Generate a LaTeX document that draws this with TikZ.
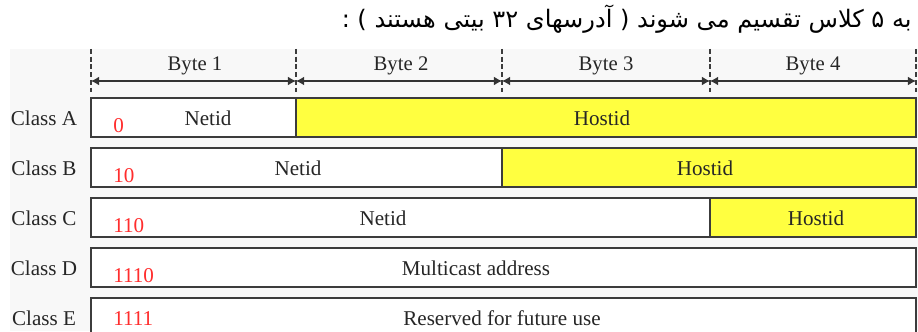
\documentclass[tikz,border=0pt]{standalone}
\usepackage{fontspec}
\setmainfont{Liberation Serif}
\newfontfamily\farsifont[Script=Arabic]{DejaVu Sans}
\TeXXeTstate=1
\usetikzlibrary{arrows.meta}
\definecolor{panel}{RGB}{248,248,248}
\definecolor{hostyellow}{RGB}{255,255,64}
\definecolor{codered}{RGB}{255,45,45}
\definecolor{edge}{RGB}{60,60,60}
\tikzset{
    field/.style={draw=edge,line width=0.8pt,fill=white},
    hostfield/.style={field,fill=hostyellow},
    tick/.style={draw=edge,line width=0.9pt,dash pattern=on 2.8pt off 1.6pt},
    span/.style={draw=black!80,line width=0.7pt,{Latex[length=4.6pt,width=5pt]}-{Latex[length=4.6pt,width=5pt]}},
    lbl/.style={font=\fontsize{12}{14}\selectfont,text=black!85,inner sep=0pt},
    bytelbl/.style={font=\fontsize{11.8}{14}\selectfont,text=black!85,inner sep=0pt},
    code/.style={font=\fontsize{12}{14}\selectfont,text=codered,anchor=west,inner sep=0pt}
}
\begin{document}
\begin{tikzpicture}[x=0.02cm,y=-0.02cm]
        \clip (0,0) rectangle (918,331);
        \fill[white] (0,0) rectangle (918,331);
        \fill[panel] (10,49) rectangle (918,331);

        \node[anchor=base east,inner sep=0pt] (title) at (912,28)
            {\farsifont\fontsize{13.7}{16}\selectfont\beginR به ۵ کلاس تقسیم می شوند ( آدرسهای ۳۲ بیتی هستند ) :\endR};

        % byte ruler
        \coordinate (t0) at (91,81);
        \coordinate (t1) at (296,81);
        \coordinate (t2) at (502,81);
        \coordinate (t3) at (710,81);
        \coordinate (t4) at (916,81);
        \draw[tick] (91,49)--(91,92);
        \draw[tick] (296,49)--(296,92);
        \draw[tick] (502,49)--(502,92);
        \draw[tick] (710,49)--(710,92);
        \draw[tick] (916,49)--(916,92);
        \draw[span] (t0)--(t1);
        \draw[span] (t1)--(t2);
        \draw[span] (t2)--(t3);
        \draw[span] (t3)--(t4);
        \node[bytelbl] (byte1) at (195,66) {Byte 1};
        \node[bytelbl] (byte2) at (401,66) {Byte 2};
        \node[bytelbl] (byte3) at (606,66) {Byte 3};
        \node[bytelbl] (byte4) at (813,66) {Byte 4};

        % class A
        \draw[field] (91,98) rectangle (296,137);
        \draw[hostfield] (296,98) rectangle (916,137);
        \node[lbl] (clsA) at (44,118) {Class A};
        \node[code] (codeA) at (113,126) {0};
        \node[lbl] (netA) at (208,118) {Netid};
        \node[lbl] (hostA) at (602,118) {Hostid};

        % class B
        \draw[field] (91,148) rectangle (502,187);
        \draw[hostfield] (502,148) rectangle (916,187);
        \node[lbl] (clsB) at (44,168) {Class B};
        \node[code] (codeB) at (113,176) {10};
        \node[lbl] (netB) at (298,168) {Netid};
        \node[lbl] (hostB) at (705,168) {Hostid};

        % class C
        \draw[field] (91,198) rectangle (710,237);
        \draw[hostfield] (710,198) rectangle (916,237);
        \node[lbl] (clsC) at (44,218) {Class C};
        \node[code] (codeC) at (113,226) {110};
        \node[lbl] (netC) at (383,218) {Netid};
        \node[lbl] (hostC) at (816,218) {Hostid};

        % class D
        \draw[field] (91,248) rectangle (916,287);
        \node[lbl] (clsD) at (44,268) {Class D};
        \node[code] (codeD) at (113,276) {1110};
        \node[lbl] (multi) at (476,268) {Multicast address};

        % class E
        \draw[field] (91,298) rectangle (916,337);
        \node[lbl] (clsE) at (44,318) {Class E};
        \node[code] (codeE) at (113,319) {1111};
        \node[lbl] (resv) at (502,318) {Reserved for future use};
    \end{tikzpicture}
\end{document}
